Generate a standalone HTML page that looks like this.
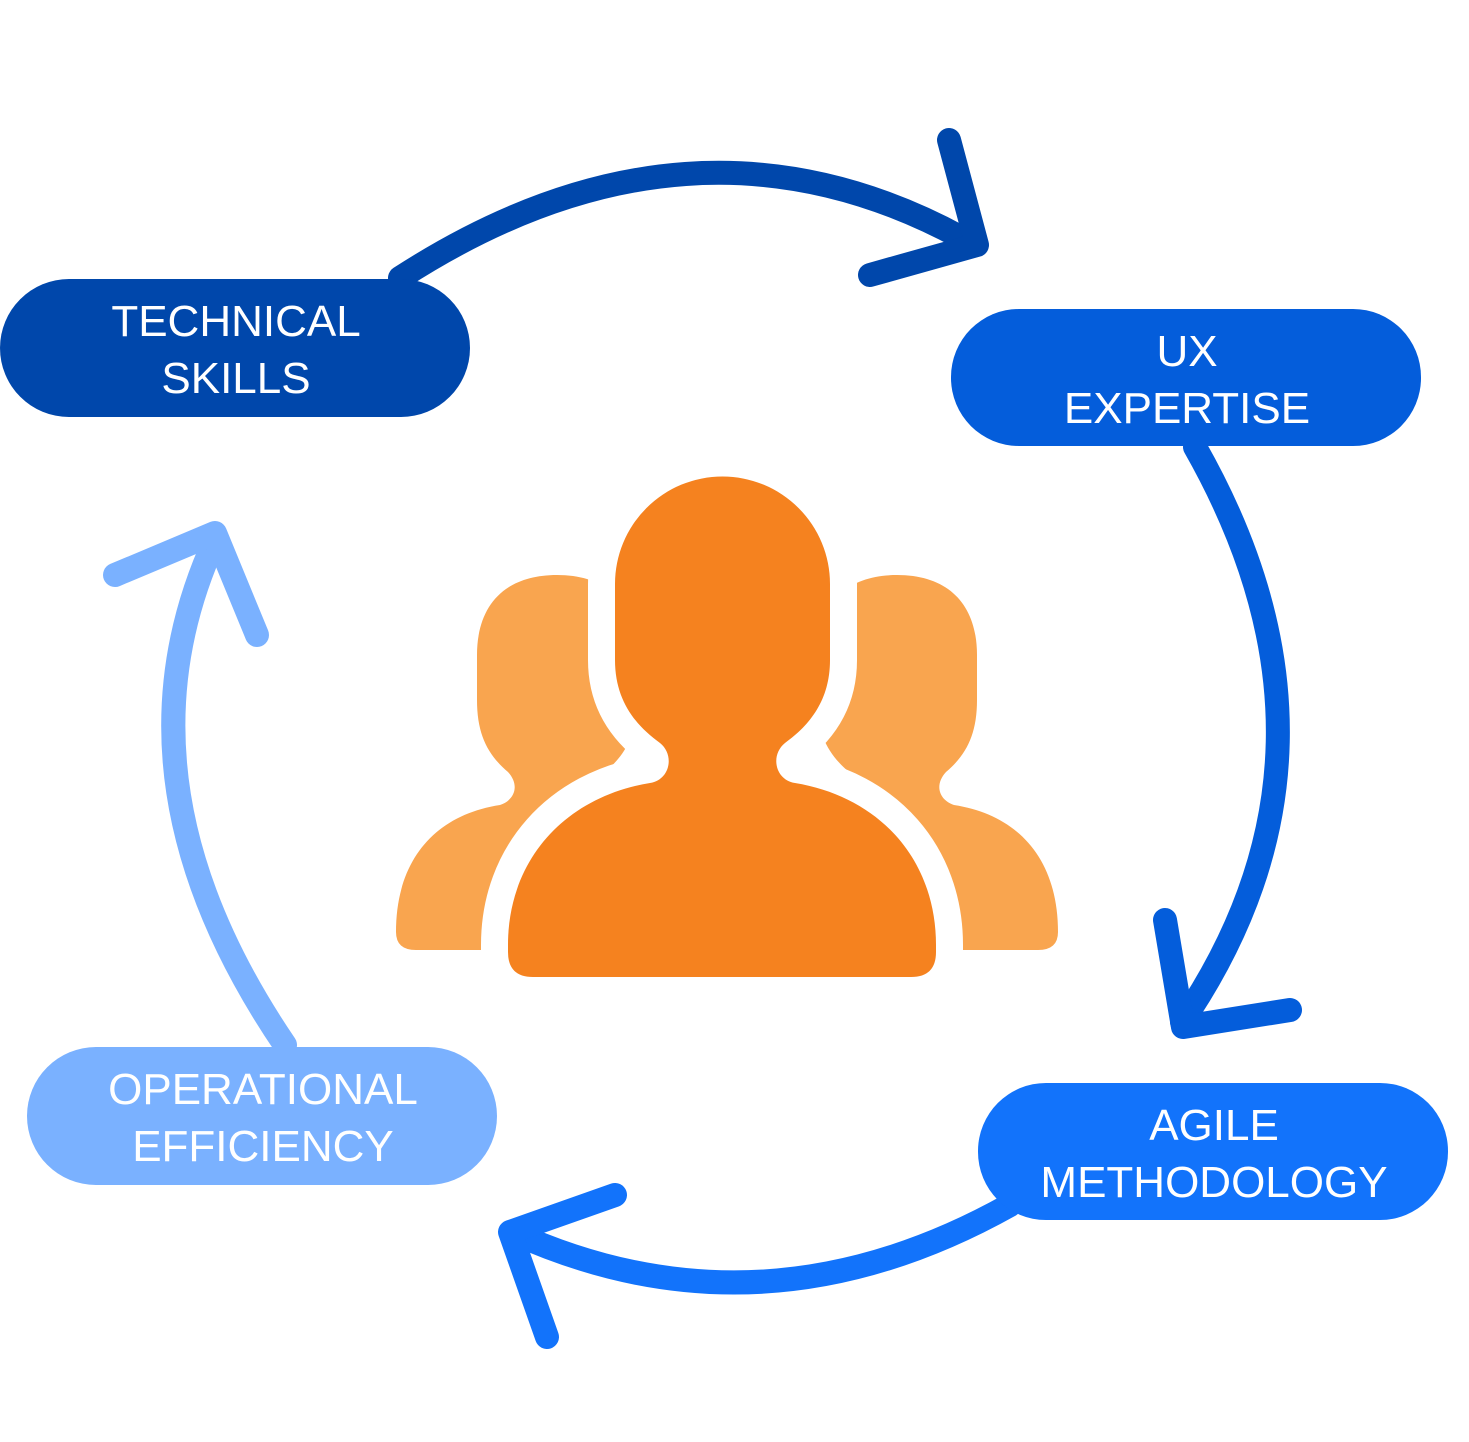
<!DOCTYPE html>
<html><head><meta charset="utf-8"><style>
html,body{margin:0;padding:0;background:#fff;}
svg{display:block;}
text{font-family:"Liberation Sans",sans-serif;font-size:44px;fill:#fff;text-anchor:middle;}
</style></head><body>
<svg width="1469" height="1442" viewBox="0 0 1469 1442">
<g fill="none" stroke-width="24" stroke-linecap="round" stroke-linejoin="round">
<path d="M400,278 Q690,90 962,238" stroke="#0047AB"/>
<path d="M949,140 L977,245 L870,275" stroke="#0047AB"/>
<path d="M1195,447 Q1367,750 1182,1022" stroke="#045DDB"/>
<path d="M1165,920 L1183,1027 L1290,1010" stroke="#045DDB"/>
<path d="M1010,1205 Q760,1345 512,1232" stroke="#1273FB"/>
<path d="M615,1195 L510,1232 L547,1337" stroke="#1273FB"/>
<path d="M285,1045 Q105,780 215,540" stroke="#7AB1FF"/>
<path d="M115,575 L215,533 L257,635" stroke="#7AB1FF"/>
</g>
<rect x="0" y="279" width="470" height="138" rx="69" fill="#0047AB"/>
<text x="236" y="336">TECHNICAL</text><text x="236" y="393">SKILLS</text>
<rect x="951" y="309" width="470" height="137" rx="68" fill="#045DDB"/>
<text x="1187" y="366">UX</text><text x="1187" y="423">EXPERTISE</text>
<rect x="978" y="1083" width="470" height="137" rx="68" fill="#1273FB"/>
<text x="1214" y="1140">AGILE</text><text x="1214" y="1197">METHODOLOGY</text>
<rect x="27" y="1047" width="470" height="138" rx="69" fill="#7AB1FF"/>
<text x="263" y="1104">OPERATIONAL</text><text x="263" y="1161">EFFICIENCY</text>
<g fill="#F9A54F">
<path id="lp" d="M477,655 C477,605 505,575 557,575 C609,575 637,605 637,655 L637,700 C637,735 625,755 605,772 C590,785 595,800 610,805 C680,818 720,860 720,930 L720,932 Q720,950 700,950 L416,950 Q396,950 396,932 C396,860 435,815 500,805 C515,800 520,785 508,772 C488,755 477,735 477,700 Z"/>
<use href="#lp" transform="translate(1454,0) scale(-1,1)"/>
</g>
<path d="M615,584 A107,107 0 0 1 830,584 L830,660 C830,700 810,725 785,743 C770,755 775,780 795,783 C880,797 936,860 936,945 L936,952 Q936,977 911,977 L533,977 Q508,977 508,952 L508,945 C508,860 565,797 650,783 C670,780 675,755 660,743 C635,725 615,700 615,660 Z" fill="#F5821F" stroke="#fff" stroke-width="54" stroke-linejoin="round" paint-order="stroke"/>
</svg>
</body></html>
